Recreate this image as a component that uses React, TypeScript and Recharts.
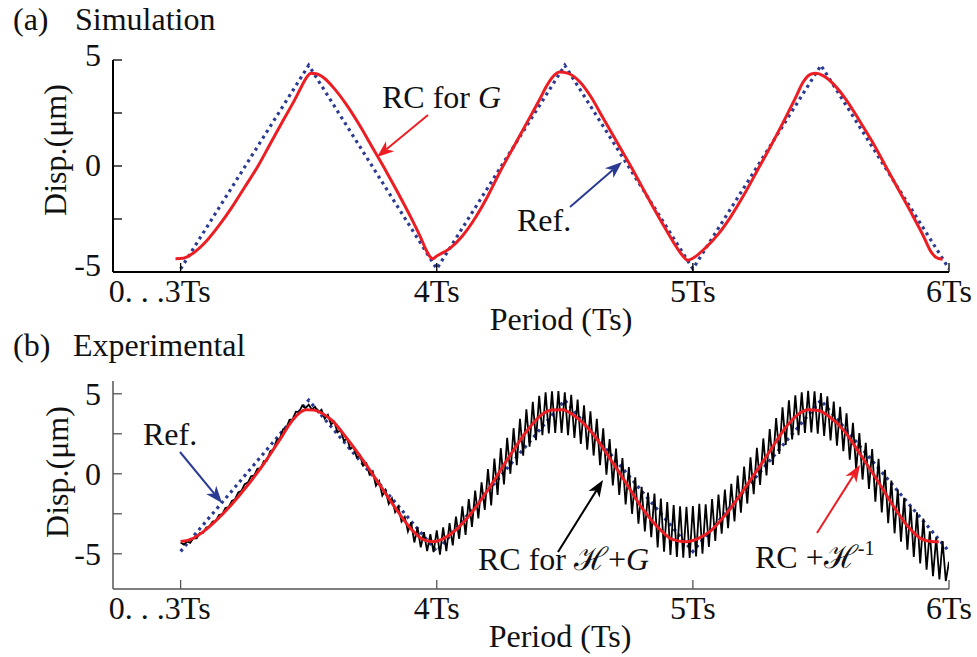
import React from 'react';
import { LineChart, Line, XAxis, YAxis } from 'recharts';

const FONT = "'Liberation Serif','Times New Roman',Times,serif";
const FS = 32;
const RED = '#EC1E24';
const BLUE = '#2B3A92';

// ---------- shared axis ticks ----------
const xTicks = [3, 4, 5, 6];
const xTickLabels = ['0. . .3Ts', '4Ts', '5Ts', '6Ts'];
const yTicks = [-5, -2.5, 0, 2.5, 5];
const yTickLabels = ['-5', '', '0', '', '5'];

// ---------- panel (a) Simulation ----------
const simRefT = [3.0, 3.5, 4.0, 4.5, 5.0, 5.5, 6.0];
const simRefV = [-4.85, 4.75, -4.85, 4.75, -4.85, 4.75, -4.85];

const simRcT = [2.98, 3.01, 3.05, 3.1, 3.15, 3.2, 3.25, 3.3, 3.35, 3.4, 3.44, 3.47, 3.49, 3.51, 3.53, 3.56, 3.6, 3.65, 3.7, 3.75, 3.8, 3.85, 3.9, 3.94, 3.96, 3.975, 3.985, 4.0, 4.05, 4.1, 4.15, 4.2, 4.25, 4.3, 4.35, 4.4, 4.43, 4.46, 4.48, 4.51, 4.56, 4.6, 4.65, 4.7, 4.75, 4.8, 4.85, 4.9, 4.94, 4.965, 4.98, 5.0, 5.05, 5.1, 5.15, 5.2, 5.25, 5.3, 5.35, 5.4, 5.43, 5.46, 5.48, 5.51, 5.55, 5.6, 5.65, 5.7, 5.75, 5.8, 5.85, 5.9, 5.93, 5.955, 5.975];
const simRcV = [-4.37, -4.35, -4.1, -3.55, -2.8, -1.95, -1.0, -0.05, 1.05, 2.15, 3.0, 3.7, 4.15, 4.37, 4.35, 4.15, 3.65, 2.85, 1.9, 0.85, -0.2, -1.3, -2.45, -3.45, -4.0, -4.3, -4.37, -4.25, -3.9, -3.3, -2.45, -1.4, -0.2, 0.9, 2.0, 3.1, 3.8, 4.3, 4.43, 4.38, 3.95, 3.3, 2.25, 1.2, 0.15, -0.95, -2.05, -3.1, -3.9, -4.3, -4.45, -4.35, -3.85, -3.2, -2.35, -1.35, -0.25, 0.85, 2.0, 3.2, 3.95, 4.33, 4.37, 4.25, 3.85, 3.1, 2.15, 1.15, 0.05, -1.05, -2.15, -3.3, -4.05, -4.35, -4.4];

// ---------- panel (b) Experimental ----------
const expRefT = [3.0, 3.5, 4.0, 4.5, 5.0, 5.5, 6.0];
const expRefV = [-4.85, 4.6, -4.85, 4.6, -4.85, 4.6, -4.85];

const expRcT = [3.0, 3.04, 3.09, 3.14, 3.2, 3.26, 3.33, 3.39, 3.43, 3.46, 3.49, 3.52, 3.55, 3.59, 3.65, 3.72, 3.78, 3.85, 3.9, 3.94, 3.98, 4.02, 4.06, 4.12, 4.2, 4.28, 4.36, 4.41, 4.45, 4.49, 4.54, 4.61, 4.67, 4.74, 4.8, 4.87, 4.92, 4.97, 5.02, 5.07, 5.14, 5.22, 5.3, 5.36, 5.41, 5.45, 5.49, 5.53, 5.59, 5.65, 5.72, 5.78, 5.84, 5.89, 5.93, 5.96];
const expRcV = [-4.23, -4.1, -3.6, -2.9, -1.9, -0.75, 0.75, 2.2, 3.2, 3.75, 4.0, 3.98, 3.8, 3.35, 2.2, 0.67, -0.75, -2.4, -3.45, -4.05, -4.25, -4.1, -3.7, -2.75, -1.0, 1.0, 2.85, 3.7, 3.98, 4.0, 3.6, 2.5, 1.1, -0.6, -2.1, -3.45, -4.1, -4.25, -4.05, -3.55, -2.3, -0.5, 1.4, 2.85, 3.7, 4.0, 3.95, 3.6, 2.7, 1.3, -0.4, -1.95, -3.3, -4.05, -4.23, -4.25];

// measured response (RC for H+G), sampled every 1/80 Ts from 3Ts
const expMeasStart = 3;
const expMeasStep = 0.0125;
const expMeasV = [
  -4.30, -4.43, -4.22, -4.32, -4.02, -4.03, -3.71, -3.70,
  -3.36, -3.30, -2.98, -2.95, -2.58, -2.52, -2.14, -2.08,
  -1.69, -1.59, -1.17, -1.07, -0.65, -0.55, -0.16, -0.10,
  0.32, 0.32, 0.79, 0.83, 1.41, 1.51, 2.10, 2.20,
  2.78, 2.84, 3.38, 3.40, 3.88, 3.86, 4.27, 4.10,
  4.32, 4.02, 4.18, 3.84, 4.00, 3.44, 3.68, 3.10,
  3.25, 2.59, 2.73, 2.07, 2.21, 1.55, 1.69, 1.03,
  1.17, 0.51, 0.66, -0.04, 0.16, -0.75, -0.45, -1.36,
  -1.02, -1.88, -1.54, -2.40, -2.07, -2.98, -2.69, -3.60,
  -3.03, -4.29, -3.35, -4.60, -3.65, -4.83, -3.77, -4.90,
  -3.53, -5.05, -3.35, -4.83, -3.08, -4.48, -2.67, -4.06,
  -2.04, -3.82, -1.58, -3.32, -1.05, -2.79, -0.53, -2.26,
  0.30, -1.97, 0.95, -1.32, 1.60, -0.67, 2.25, 0.00,
  2.85, 0.54, 3.44, 1.13, 4.03, 1.70, 4.50, 2.10,
  4.88, 2.42, 5.10, 2.53, 5.15, 2.56, 5.17, 2.55,
  5.10, 2.42, 4.93, 2.24, 4.64, 1.86, 4.28, 1.50,
  3.91, 1.14, 3.44, 0.54, 2.84, -0.06, 2.17, -0.73,
  1.58, -1.32, 0.98, -1.91, 0.42, -2.50, -0.22, -3.12,
  -0.82, -3.60, -1.18, -3.96, -1.24, -4.60, -1.55, -4.87,
  -1.77, -5.07, -1.95, -5.20, -2.03, -5.25, -2.06, -5.26,
  -2.02, -5.16, -1.88, -4.99, -1.90, -4.57, -1.58, -4.20,
  -1.30, -3.75, -0.98, -3.40, -0.62, -2.98, -0.11, -2.43,
  0.45, -1.86, 1.03, -1.28, 1.62, -0.69, 2.21, -0.10,
  2.80, 0.55, 3.49, 1.24, 4.15, 1.80, 4.60, 2.15,
  4.90, 2.42, 5.10, 2.55, 5.18, 2.58, 5.16, 2.50,
  5.04, 2.36, 4.84, 2.08, 4.52, 1.76, 4.19, 1.42,
  3.78, 0.88, 3.18, 0.28, 2.54, -0.36, 1.94, -0.95,
  1.55, -1.75, 0.93, -2.41, 0.25, -3.09, -0.42, -3.72,
  -0.98, -4.24, -1.50, -4.75, -2.00, -5.20, -2.40, -5.60,
  -2.80, -6.00, -3.60, -6.40, -4.00, -6.60, -4.20, -6.70, -5.50,
];

// ---------- build tables ----------
const zip = (t: number[], v: number[]) => t.map((x, i) => ({ x, y: v[i] }));
const simRefData = zip(simRefT, simRefV);
const simRcData = zip(simRcT, simRcV);
const expRefData = zip(expRefT, expRefV);
const expRcData = zip(expRcT, expRcV);
const expMeasData = expMeasV.map((y, i) => ({ x: expMeasStart + i * expMeasStep, y }));

const X_DOMAIN: [number, number] = [2.736, 6];

// ---------- custom ticks ----------
const XTick = (props: any) => {
  const { x, y, payload } = props;
  const i = xTicks.indexOf(payload.value);
  const label = xTickLabels[i] ?? '';
  const first = i === 0;
  return (
    <text x={first ? x + 30 : x} y={y + 39} textAnchor={first ? 'end' : 'middle'} fontSize={FS} fontFamily={FONT} fill="#111">
      {label}
    </text>
  );
};

const makeYTick = (shift: Record<string, number>) => (props: any) => {
  const { x, y, payload } = props;
  const i = yTicks.indexOf(payload.value);
  const label = yTickLabels[i] ?? '';
  if (!label) return <g />;
  return (
    <text x={x - 21} y={y + (shift[label] ?? 0)} dy="0.35em" textAnchor="end" fontSize={FS} fontFamily={FONT} fill="#111">
      {label}
    </text>
  );
};
const yTickA = makeYTick({ '5': -5, '0': -1, '-5': -7 });
const yTickB = makeYTick({});

// ---------- overlay helpers ----------
function Arrow({ x1, y1, x2, y2, color }: { x1: number; y1: number; x2: number; y2: number; color: string }) {
  const dx = x2 - x1;
  const dy = y2 - y1;
  const L = Math.hypot(dx, dy);
  const ux = dx / L;
  const uy = dy / L;
  const hl = 17;
  const hw = 6.5;
  const bx = x2 - ux * hl;
  const by = y2 - uy * hl;
  const nx = x2 - ux * hl * 0.72;
  const ny = y2 - uy * hl * 0.72;
  const pts = `${x2},${y2} ${bx - uy * hw},${by + ux * hw} ${nx},${ny} ${bx + uy * hw},${by - ux * hw}`;
  return (
    <g>
      <line x1={x1} y1={y1} x2={nx} y2={ny} stroke={color} strokeWidth={2} />
      <polygon points={pts} fill={color} />
    </g>
  );
}

function Panel({ height, top, marginTop, axisH, yDomain, border, borderW, yTick, children }: any) {
  const axisLine = { stroke: border, strokeWidth: borderW };
  const tickLine = { stroke: border, strokeWidth: 1.3 };
  return (
    <div style={{ position: 'absolute', left: 0, top }}>
      <LineChart width={977} height={height} margin={{ top: marginTop, right: 28, bottom: 0, left: 0 }}>
        <XAxis xAxisId="x" type="number" dataKey="x" domain={X_DOMAIN} allowDataOverflow ticks={xTicks} interval={0}
          orientation="bottom" height={axisH} tickSize={-9} tickMargin={0} tick={XTick} axisLine={axisLine} tickLine={tickLine} />
        <XAxis xAxisId="xt" type="number" dataKey="x" domain={X_DOMAIN} allowDataOverflow ticks={xTicks} interval={0}
          orientation="top" height={0} tickSize={-9} tick={false} axisLine={axisLine} tickLine={tickLine} />
        <YAxis yAxisId="y" type="number" dataKey="y" domain={yDomain} allowDataOverflow ticks={yTicks} interval={0}
          width={113} tickSize={-9} tickMargin={0} tick={yTick} axisLine={axisLine} tickLine={tickLine} />
        <YAxis yAxisId="yr" orientation="right" type="number" dataKey="y" domain={yDomain} allowDataOverflow ticks={yTicks} interval={0}
          width={0} tickSize={-9} tick={false} axisLine={axisLine} tickLine={tickLine} />
        {children}
      </LineChart>
    </div>
  );
}

export default function App() {
  const txt = { fontFamily: FONT, fontSize: FS, fill: '#111' } as const;
  return (
    <div style={{ position: 'absolute', left: 0, top: 0, width: 977, height: 657, background: '#fff', overflow: 'hidden' }}>
      <Panel height={330} top={0} marginTop={60} axisH={58} yDomain={[-5, 5]} border="#000" borderW={2} yTick={yTickA}>
        <Line xAxisId="x" yAxisId="y" data={simRefData} dataKey="y" type="linear" stroke={BLUE} strokeWidth={3.2} strokeDasharray="3 4" dot={false} isAnimationActive={false} />
        <Line xAxisId="x" yAxisId="y" data={simRcData} dataKey="y" type="monotone" stroke={RED} strokeWidth={3} dot={false} isAnimationActive={false} />
      </Panel>
      <Panel height={327} top={330} marginTop={51} axisH={68} yDomain={[-7.2, 5.8]} border="#555" borderW={1.5} yTick={yTickB}>
        <Line xAxisId="x" yAxisId="y" data={expRefData} dataKey="y" type="linear" stroke={BLUE} strokeWidth={3.2} strokeDasharray="3 4" dot={false} isAnimationActive={false} />
        <Line xAxisId="x" yAxisId="y" data={expMeasData} dataKey="y" type="linear" stroke="#000" strokeWidth={1.8} dot={false} isAnimationActive={false} />
        <Line xAxisId="x" yAxisId="y" data={expRcData} dataKey="y" type="monotone" stroke={RED} strokeWidth={3} dot={false} isAnimationActive={false} />
      </Panel>
      <svg width={977} height={657} style={{ position: 'absolute', left: 0, top: 0, pointerEvents: 'none' }}>
        <text x={13} y={30} {...txt}>(a)</text>
        <text x={75} y={30} {...txt}>Simulation</text>
        <text x={13} y={356} {...txt}>(b)</text>
        <text x={73} y={356} {...txt}>Experimental</text>
        <text transform="translate(66,150) rotate(-90)" textAnchor="middle" {...txt}>Disp.(μm)</text>
        <text transform="translate(68,472) rotate(-90)" textAnchor="middle" {...txt}>Disp.(μm)</text>
        <text x={561} y={330} textAnchor="middle" {...txt}>Period (Ts)</text>
        <text x={560} y={647} textAnchor="middle" {...txt}>Period (Ts)</text>
        <text x={382} y={108} {...txt}>RC for <tspan fontStyle="italic">G</tspan></text>
        <Arrow x1={428} y1={115} x2={377} y2={157} color={RED} />
        <text x={517} y={231} {...txt}>Ref.</text>
        <Arrow x1={570} y1={207} x2={622} y2={162} color={BLUE} />
        <text x={143} y={445} {...txt}>Ref.</text>
        <Arrow x1={180} y1={452} x2={222} y2={503} color={BLUE} />
        <text x={478} y={570} {...txt}>RC for ℋ+<tspan fontStyle="italic">G</tspan></text>
        <Arrow x1={558} y1={552} x2={603} y2={480} color="#000" />
        <text x={755} y={568} {...txt}>RC +ℋ<tspan fontSize={20} dy={-13}>-1</tspan></text>
        <Arrow x1={817} y1={533} x2={860} y2={465} color={RED} />
      </svg>
    </div>
  );
}
